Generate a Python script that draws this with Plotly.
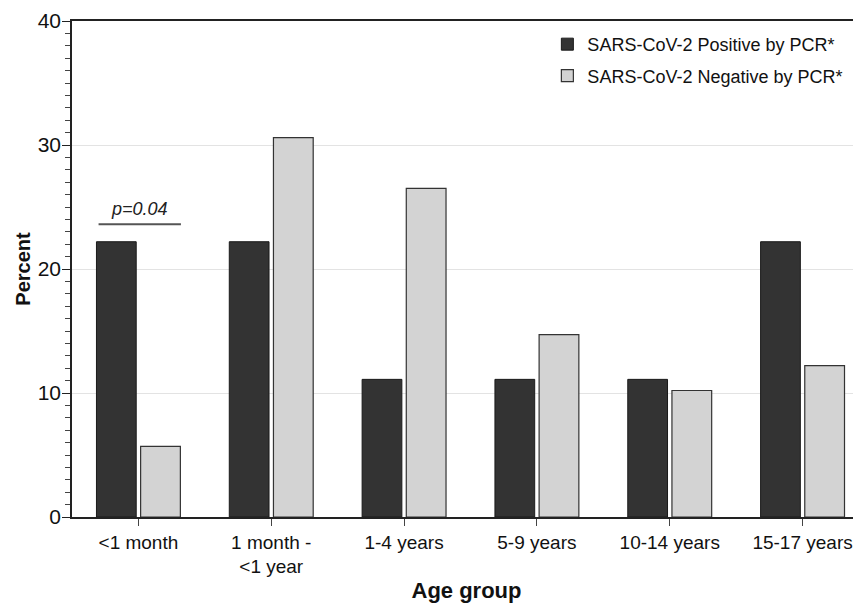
import plotly.graph_objects as go

categories = ["<1 month", "1 month -<br><1 year", "1-4 years", "5-9 years", "10-14 years", "15-17 years"]
positive_pct = [22.2, 22.2, 11.1, 11.1, 11.1, 22.2]
negative_pct = [5.7, 30.6, 26.5, 14.7, 10.2, 12.2]
series_names = ["SARS-CoV-2 Positive by PCR*", "SARS-CoV-2 Negative by PCR*"]
y_ticks = [0, 10, 20, 30, 40]

FONT = "Liberation Sans, Arial, sans-serif"

fig = go.Figure()
fig.add_trace(go.Bar(
    x=categories, y=positive_pct, name=series_names[0], legendgroup="a",
    marker=dict(color="#333333", line=dict(color="#1a1a1a", width=1)),
))
fig.add_trace(go.Bar(
    x=categories, y=negative_pct, name=series_names[1], legendgroup="b",
    marker=dict(color="#d3d3d3", line=dict(color="#333333", width=1.2)),
))

# significance marker for the first age group
fig.add_shape(type="line", xref="x", yref="y", x0=-0.30, x1=0.32, y0=23.6, y1=23.6,
              line=dict(color="#555555", width=2))
fig.add_annotation(x=0.01, y=24.85, xref="x", yref="y", text="<i>p=0.04</i>",
                   showarrow=False, font=dict(size=18, color="#222222", family=FONT))

fig.update_layout(
    width=853, height=595,
    margin=dict(l=64, r=0, t=13, b=86),
    paper_bgcolor="white", plot_bgcolor="white",
    barmode="group", bargap=0.335, bargroupgap=0.1,
    font=dict(family=FONT, color="#111111"),
    showlegend=True,
    legend=dict(x=0.6025, y=0.99, xanchor="left", yanchor="top",
                font=dict(size=18, family=FONT, color="#111111"),
                tracegroupgap=5, bgcolor="rgba(0,0,0,0)"),
    xaxis=dict(
        type="category", range=[-0.5, 5.44], automargin=False,
        showline=True, linecolor="#222222", linewidth=1.5, mirror=True,
        ticks="outside", ticklen=7, tickcolor="#444444", tickwidth=1.2,
        tickfont=dict(size=19, family=FONT, color="#111111"),
        title=dict(text="<b>Age group</b>", font=dict(size=22, family=FONT, color="#111111"), standoff=8),
        showgrid=False,
    ),
    yaxis=dict(
        range=[0, 40], tickvals=y_ticks, automargin=False,
        showline=True, linecolor="#222222", linewidth=1.5,
        ticks="outside", ticklen=8, tickcolor="#222222", tickwidth=1.2,
        ticklabelstandoff=-3,
        minor=dict(dtick=1, ticks="outside", ticklen=5, tickcolor="#444444", tickwidth=1, showgrid=False),
        tickfont=dict(size=21, family=FONT, color="#111111"),
        showgrid=True, gridcolor="#e3e3e3", gridwidth=1,
        zeroline=False,
        title=dict(text="<b>Percent</b>", font=dict(size=20, family=FONT, color="#111111"), standoff=2),
    ),
)

fig.write_html("out.html")
